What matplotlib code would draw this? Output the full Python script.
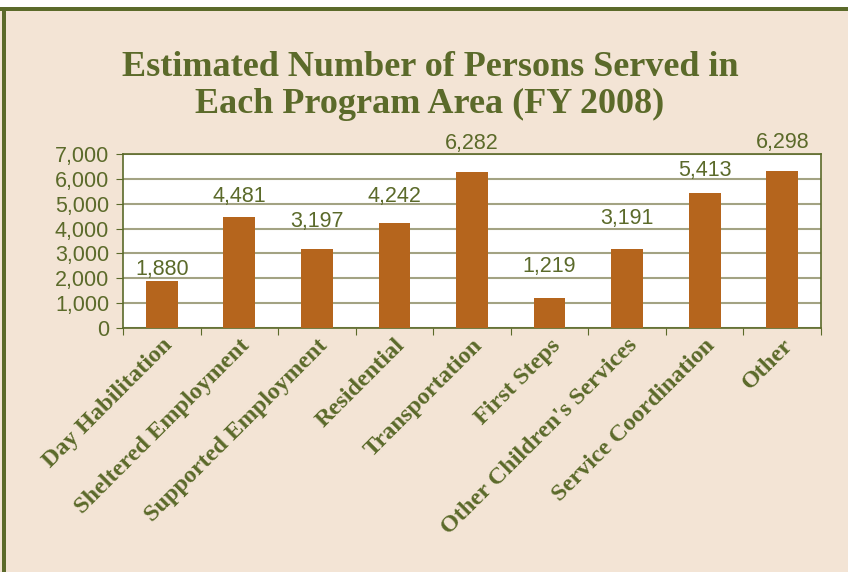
import matplotlib.pyplot as plt
from matplotlib.patches import Rectangle
from matplotlib.ticker import FuncFormatter, MultipleLocator

categories = ["Day Habilitation", "Sheltered Employment", "Supported Employment",
              "Residential", "Transportation", "First Steps",
              "Other Children's Services", "Service Coordination", "Other"]
values = [1880, 4481, 3197, 4242, 6282, 1219, 3191, 5413, 6298]
# baseline height (data units) where each value label sits in the original
label_baseline = [2130, 5070, 4060, 5070, 7200, 2250, 4180, 6110, 7240]
title = "Estimated Number of Persons Served in\nEach Program Area (FY 2008)"

BG = "#F3E4D5"
OLIVE = "#5B6A2A"
GRID = "#A3A383"
BAR = "#B5651D"

fig = plt.figure(figsize=(8.48, 5.72), dpi=100)
fig.patch.set_facecolor("white")
# beige panel with olive border on top and left
fig.add_artist(Rectangle((0, 0), 1, 1 - 7/572, transform=fig.transFigure,
                         facecolor=BG, edgecolor="none", zorder=-3))
fig.add_artist(Rectangle((0, 1 - 11/572), 1, 4/572, transform=fig.transFigure,
                         facecolor=OLIVE, edgecolor="none", zorder=-2))
fig.add_artist(Rectangle((2/848, 0), 4/848, 1 - 7/572, transform=fig.transFigure,
                         facecolor=OLIVE, edgecolor="none", zorder=-2))

ax = fig.add_axes([123/848, 1 - 328/572, (821 - 123)/848, (328 - 154)/572])
ax.set_facecolor("white")
x = list(range(len(categories)))
ax.bar(x, values, width=0.41, color=BAR, zorder=3)
ax.set_xlim(-0.5, len(categories) - 0.5)
ax.set_ylim(0, 7000)
ax.yaxis.set_major_locator(MultipleLocator(1000))
ax.yaxis.set_major_formatter(FuncFormatter(lambda v, p: f"{int(v):,}"))
ax.grid(axis="y", color=GRID, linewidth=1.5, zorder=0)
for s in ax.spines.values():
    s.set_color(OLIVE)
    s.set_linewidth(1.2)

ax.set_xticks([i - 0.5 for i in range(len(categories) + 1)])
ax.set_xticklabels([])
ax.set_xticks(x, minor=True)
ax.set_xticklabels(categories, minor=True, rotation=45, ha="right", va="top",
                   rotation_mode="anchor", fontsize=17.5, fontweight="bold",
                   family="Liberation Serif", color=OLIVE)
ax.tick_params(axis="x", which="minor", length=0, pad=5)
ax.tick_params(axis="x", which="major", length=5, color=OLIVE, direction="out")
ax.tick_params(axis="y", length=5, color=OLIVE, labelsize=15.5, labelcolor=OLIVE, pad=5)
for lab in ax.get_yticklabels():
    lab.set_family("Liberation Sans")

for xi, v, ly in zip(x, values, label_baseline):
    ax.text(xi, ly, f"{v:,}", ha="center", va="baseline", fontsize=15.5,
            color=OLIVE, family="Liberation Sans", clip_on=False, zorder=4)

fig.text(430/848, 1 - 86/572, title, ha="center", va="center", fontsize=26,
         fontweight="bold", family="Liberation Serif", color=OLIVE,
         linespacing=1.15)

fig.savefig("out.png", dpi=100, facecolor=fig.get_facecolor())
